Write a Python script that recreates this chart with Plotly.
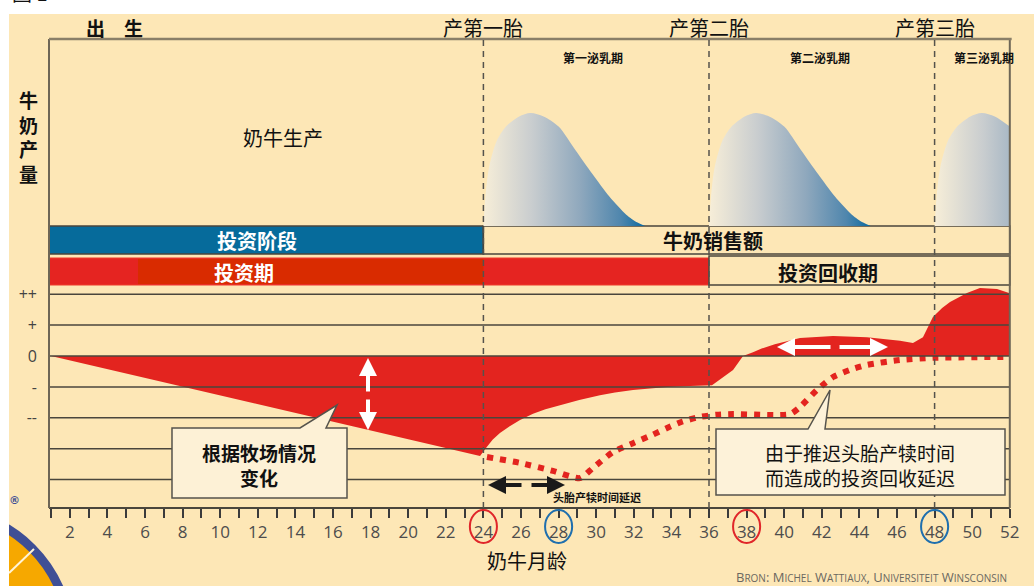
import plotly.graph_objects as go

W, H = 1034, 586
CJK = "Noto Sans CJK SC"

# ---------------- data ----------------
# x axis: age of the cow in months
tick_months = list(range(2, 53, 2))
minor_months = list(range(1, 52, 2))

# balance scale (investment result), labelled levels
level_values = [2, 1, 0, -1, -2]
level_labels = ["++", "+", "0", "-", "--"]
grid_levels = [2, 1, 0, -1, -2, -3, -4]

# cumulative investment balance, calving at 24 months
balance_month = [1.0, 23.82, 24.19, 24.5, 24.88, 25.4, 25.95, 26.64, 27.3, 28.07,
                 29.1, 30.2, 31.0, 31.96, 33.77, 35.0, 36.16, 37.28, 37.81, 38.34,
                 38.8, 39.5, 40.84, 42.6, 44.4, 46.16, 46.85, 47.38, 47.91, 48.4,
                 48.82, 49.72, 50.41, 51.32, 51.96]
balance_value = [0.0, -3.24, -2.94, -2.7, -2.49, -2.27, -2.07, -1.87, -1.72, -1.59,
                 -1.42, -1.27, -1.18, -1.10, -1.00, -0.97, -0.95, -0.45, 0.0, 0.12,
                 0.24, 0.38, 0.58, 0.65, 0.61, 0.49, 0.42, 0.61, 1.26, 1.55,
                 1.75, 2.04, 2.20, 2.17, 2.04]

# balance when the first calving is delayed to 28 months
delay_month = [24.19, 25.95, 27.7, 29.14, 29.83, 30.89, 31.96, 33.0, 33.77, 34.6,
               35.52, 36.4, 37.28, 40.31, 40.84, 41.74, 42.6, 43.5, 44.4, 46.16,
               47.91, 51.96]
delay_value = [-3.27, -3.46, -3.72, -3.95, -3.62, -3.11, -2.82, -2.55, -2.33, -2.12,
               -1.97, -1.9, -1.88, -1.88, -1.65, -1.10, -0.68, -0.45, -0.29, -0.13,
               -0.06, -0.03]

# lactation curve: months after calving vs relative milk yield
lact_offset = [0, 0.1, 0.3, 0.7, 1.2, 1.9, 2.5, 3.2, 4.0, 4.9, 5.8, 6.7, 7.6, 8.2, 8.6]
lact_yield = [0, 0.25, 0.52, 0.75, 0.88, 0.97, 1.0, 0.97, 0.88, 0.67, 0.46, 0.26, 0.1, 0.03, 0]
calving_months = [24, 36, 48]
calving_labels = ["产第一胎", "产第二胎", "产第三胎"]
lactation_labels = ["第一泌乳期", "第二泌乳期", "第三泌乳期"]
last_month = 52

# circled ages on the axis
circled_months = [24, 28, 38, 48]
circled_colors = ["#e0262a", "#1f6fae", "#e0262a", "#1f6fae"]

# ---------------- geometry helpers ----------------
MONTH_PX0, PX_PER_MONTH = 51, 18.8
ZERO_PY, PX_PER_UNIT = 356, 30.9


def month_at(px):
    return 1 + (px - MONTH_PX0) / PX_PER_MONTH


def unit_at(py):
    return (ZERO_PY - py) / PX_PER_UNIT


def fx(px):
    return px / W


def fy(py):
    return 1 - py / H


LEFT_M, RIGHT_M = month_at(49), last_month
BEIGE = "#fde7b6"
INK = "#4a463c"
RED = "#e3241f"

fig = go.Figure()

# milk production curves (upper panel)
milk_scale = [[0, "#f7eed8"], [0.3, "#c9cdcf"], [0.6, "#8fa8bd"], [0.85, "#4f86ad"], [1, "#0a69a0"]]
for c in calving_months:
    xs = [c + o for o in lact_offset if c + o <= last_month]
    ys = [y for o, y in zip(lact_offset, lact_yield) if c + o <= last_month]
    fig.add_trace(go.Scatter(
        x=xs, y=ys, xaxis="x", yaxis="y2", mode="lines",
        line=dict(width=0, shape="spline", smoothing=0.8),
        fill="tozeroy",
        fillgradient=dict(type="horizontal", colorscale=milk_scale,
                          start=c, stop=c + lact_offset[-1]),
        hoverinfo="skip", showlegend=False))

# investment balance
fig.add_trace(go.Scatter(
    x=balance_month, y=balance_value, mode="lines", line=dict(width=0, color=RED),
    fill="tozeroy", fillcolor=RED, hoverinfo="skip", showlegend=False))

# delayed-calving balance
fig.add_trace(go.Scatter(
    x=delay_month, y=delay_value, mode="lines",
    line=dict(color=RED, width=6, dash="6px,7px", shape="spline", smoothing=0.6),
    hoverinfo="skip", showlegend=False))

shapes = []
# page background
shapes.append(dict(type="rect", xref="paper", yref="paper", x0=fx(9), x1=1, y0=0, y1=fy(14),
                   fillcolor=BEIGE, line=dict(width=0), layer="below"))
# corner logo
shapes.append(dict(type="circle", xref="paper", yref="paper", x0=fx(-190), x1=fx(70),
                   y0=fy(770), y1=fy(510), fillcolor="#f6a800",
                   line=dict(color="#3f4f95", width=9), layer="below"))
shapes.append(dict(type="line", xref="paper", yref="paper", x0=fx(9), y0=fy(573),
                   x1=fx(34), y1=fy(549), line=dict(color="#fff4d8", width=2), layer="below"))
shapes.append(dict(type="rect", xref="paper", yref="paper", x0=0, x1=fx(9), y0=0, y1=fy(14),
                   fillcolor="white", line=dict(width=0), layer="below"))

# band 1: investment stage / milk sales
shapes.append(dict(type="rect", xref="x", yref="paper", x0=LEFT_M, x1=calving_months[0],
                   y0=fy(254), y1=fy(226), fillcolor="#066b9b", line=dict(color=INK, width=1.5),
                   layer="below"))
shapes.append(dict(type="rect", xref="x", yref="paper", x0=calving_months[0], x1=RIGHT_M,
                   y0=fy(254), y1=fy(226), fillcolor=BEIGE, line=dict(color=INK, width=1.5),
                   layer="below"))
# band 2: investment period / payback period
shapes.append(dict(type="rect", xref="x", yref="paper", x0=LEFT_M, x1=calving_months[1],
                   y0=fy(285), y1=fy(258), fillcolor="#e52421", line=dict(color="#ee3a2c", width=1),
                   layer="below"))
shapes.append(dict(type="rect", xref="x", yref="paper", x0=month_at(138), x1=calving_months[0],
                   y0=fy(284), y1=fy(259), fillcolor="#d92b00", line=dict(width=0),
                   layer="below"))
shapes.append(dict(type="rect", xref="x", yref="paper", x0=calving_months[1], x1=RIGHT_M,
                   y0=fy(285), y1=fy(256), fillcolor=BEIGE, line=dict(color=INK, width=1.5),
                   layer="below"))

# horizontal grid of the balance panel
for lv in grid_levels:
    shapes.append(dict(type="line", xref="x", yref="y", x0=LEFT_M, x1=RIGHT_M, y0=lv, y1=lv,
                       line=dict(color=INK, width=1.5), layer="above"))
# axis baseline and frame
shapes.append(dict(type="line", xref="x", yref="paper", x0=LEFT_M, x1=RIGHT_M,
                   y0=fy(508), y1=fy(508), line=dict(color=INK, width=2), layer="above"))
shapes.append(dict(type="line", xref="x", yref="paper", x0=LEFT_M, x1=LEFT_M,
                   y0=fy(39), y1=fy(508), line=dict(color="#6e6656", width=2), layer="above"))
shapes.append(dict(type="line", xref="x", yref="paper", x0=RIGHT_M, x1=RIGHT_M,
                   y0=fy(39), y1=fy(508), line=dict(color="#6e6656", width=2), layer="above"))
shapes.append(dict(type="line", xref="x", yref="paper", x0=LEFT_M, x1=RIGHT_M + 0.1,
                   y0=fy(39), y1=fy(39), line=dict(color="#8a7f68", width=2.5), layer="above"))
# calving markers
for c in calving_months:
    shapes.append(dict(type="line", xref="x", yref="paper", x0=c, x1=c, y0=fy(40), y1=fy(512),
                       line=dict(color="#55534c", width=1.5, dash="6px,5px"), layer="above"))


def callout(box, base_l, tip, base_r):
    (x0, y0, x1, y1) = box
    pts = [(x0, y0), (base_l, y0), tip, (base_r, y0), (x1, y0), (x1, y1), (x0, y1)]
    return "M " + " L ".join(f"{fx(px):.5f},{fy(py):.5f}" for px, py in pts) + " Z"


shapes.append(dict(type="path", xref="paper", yref="paper",
                   path=callout((172, 428, 347, 498), 300, (337, 405), 326),
                   fillcolor="#fdf1d6", line=dict(color="#55534c", width=1.5), layer="above"))
shapes.append(dict(type="path", xref="paper", yref="paper",
                   path=callout((716, 429, 1005, 495), 808, (830, 390), 825),
                   fillcolor="#fdf2d9", line=dict(color="#55534c", width=1.5), layer="above"))

# circled ages
for m, col in zip(circled_months, circled_colors):
    shapes.append(dict(type="circle", xref="x", yref="paper", x0=m - 0.72, x1=m + 0.72,
                       y0=fy(543), y1=fy(510), line=dict(color=col, width=2), layer="above"))

annotations = []


def text(px, py, s, size, color="#111", weight="normal", family=CJK, xanchor="center", yanchor="middle"):
    annotations.append(dict(x=fx(px), y=fy(py), xref="paper", yref="paper", text=s,
                            showarrow=False, xanchor=xanchor, yanchor=yanchor,
                            font=dict(family=family, size=size, color=color, weight=weight)))


def arrow(x_tip, y_tip, x_tail, y_tail, color, width):
    annotations.append(dict(x=x_tip, y=y_tip, ax=x_tail, ay=y_tail, xref="x", yref="y",
                            axref="x", ayref="y", text="", showarrow=True, arrowhead=2,
                            arrowsize=0.9, arrowwidth=width, arrowcolor=color, standoff=0))


text(30, 9, "图 1", 20, yanchor="bottom")
text(114, 27, "出\u2003生", 19, weight="bold")
for c, lab in zip(calving_months, calving_labels):
    annotations.append(dict(x=c, y=fy(27), xref="x", yref="paper", text=lab, showarrow=False,
                            xanchor="center", yanchor="middle",
                            font=dict(family=CJK, size=20, color="#111")))
for px, lab in zip([593, 820, 984], lactation_labels):
    text(px, 57, lab, 12, weight="bold")
text(28, 136, "牛<br>奶<br>产<br>量", 19, weight="bold")
text(283, 137, "奶牛生产", 20)
text(257, 240, "投资阶段", 20, color="white", weight="bold")
text(713, 240, "牛奶销售额", 20, weight="bold")
text(244, 272, "投资期", 20, color="white", weight="bold")
text(828, 272, "投资回收期", 20, weight="bold")
text(259, 465, "根据牧场情况<br>变化", 19, weight="bold")
text(860, 465, "由于推迟头胎产犊时间<br>而造成的投资回收延迟", 19)
text(597, 497, "头胎产犊时间延迟", 11, weight="bold")
text(527, 560, "奶牛月龄", 20)
text(14, 500, "®", 11, color="#3f4f95", family="DejaVu Sans", weight="bold")
sc = "<span style='font-size:10px'>{}</span>"
text(1009, 577,
     "B" + sc.format("RON") + ": M" + sc.format("ICHEL") + " W" + sc.format("ATTIAUX") +
     ", U" + sc.format("NIVERSITEIT") + " W" + sc.format("INSCONSIN"),
     13, color="#6b6760", family="Open Sans", xanchor="right")

# variation arrow (left), recovery-time arrow (right), delay arrow (bottom)
vx = month_at(368)
arrow(vx, unit_at(358), vx, unit_at(393), "white", 4)
arrow(vx, unit_at(430), vx, unit_at(398), "white", 4)
hy = unit_at(347)
arrow(month_at(777), hy, month_at(832), hy, "white", 4)
arrow(month_at(888), hy, month_at(838), hy, "white", 4)
by = unit_at(485)
arrow(month_at(488), by, month_at(523), by, "#1a1a1a", 4)
arrow(month_at(565), by, month_at(530), by, "#1a1a1a", 4)

fig.update_layout(
    width=W, height=H, margin=dict(l=0, r=0, t=0, b=0),
    paper_bgcolor="white", plot_bgcolor="rgba(0,0,0,0)",
    shapes=shapes, annotations=annotations, showlegend=False,
    xaxis=dict(domain=[0, 1], range=[month_at(0), month_at(W)], anchor="free", position=fy(508),
               side="bottom", showgrid=False, zeroline=False, showline=False,
               tickmode="array", tickvals=tick_months, ticktext=[str(m) for m in tick_months],
               ticks="outside", ticklen=9, tickwidth=2, tickcolor="#3b3b3b",
               tickfont=dict(family="Open Sans", size=17, color="#4d4d4d"),
               minor=dict(tickmode="array", tickvals=minor_months, ticks="outside",
                          ticklen=9, tickwidth=2, tickcolor="#3b3b3b")),
    yaxis=dict(domain=[0, 1], range=[unit_at(H), unit_at(0)], anchor="free", position=fx(49),
               side="left", showgrid=False, zeroline=False, showline=False, ticks="",
               tickmode="array", tickvals=level_values, ticktext=level_labels,
               ticklabelstandoff=12,
               tickfont=dict(family="Open Sans", size=16, color="#444")),
    yaxis2=dict(domain=[fy(226), fy(113)], range=[0, 1], anchor="x", visible=False),
)

fig.write_html("out.html")
